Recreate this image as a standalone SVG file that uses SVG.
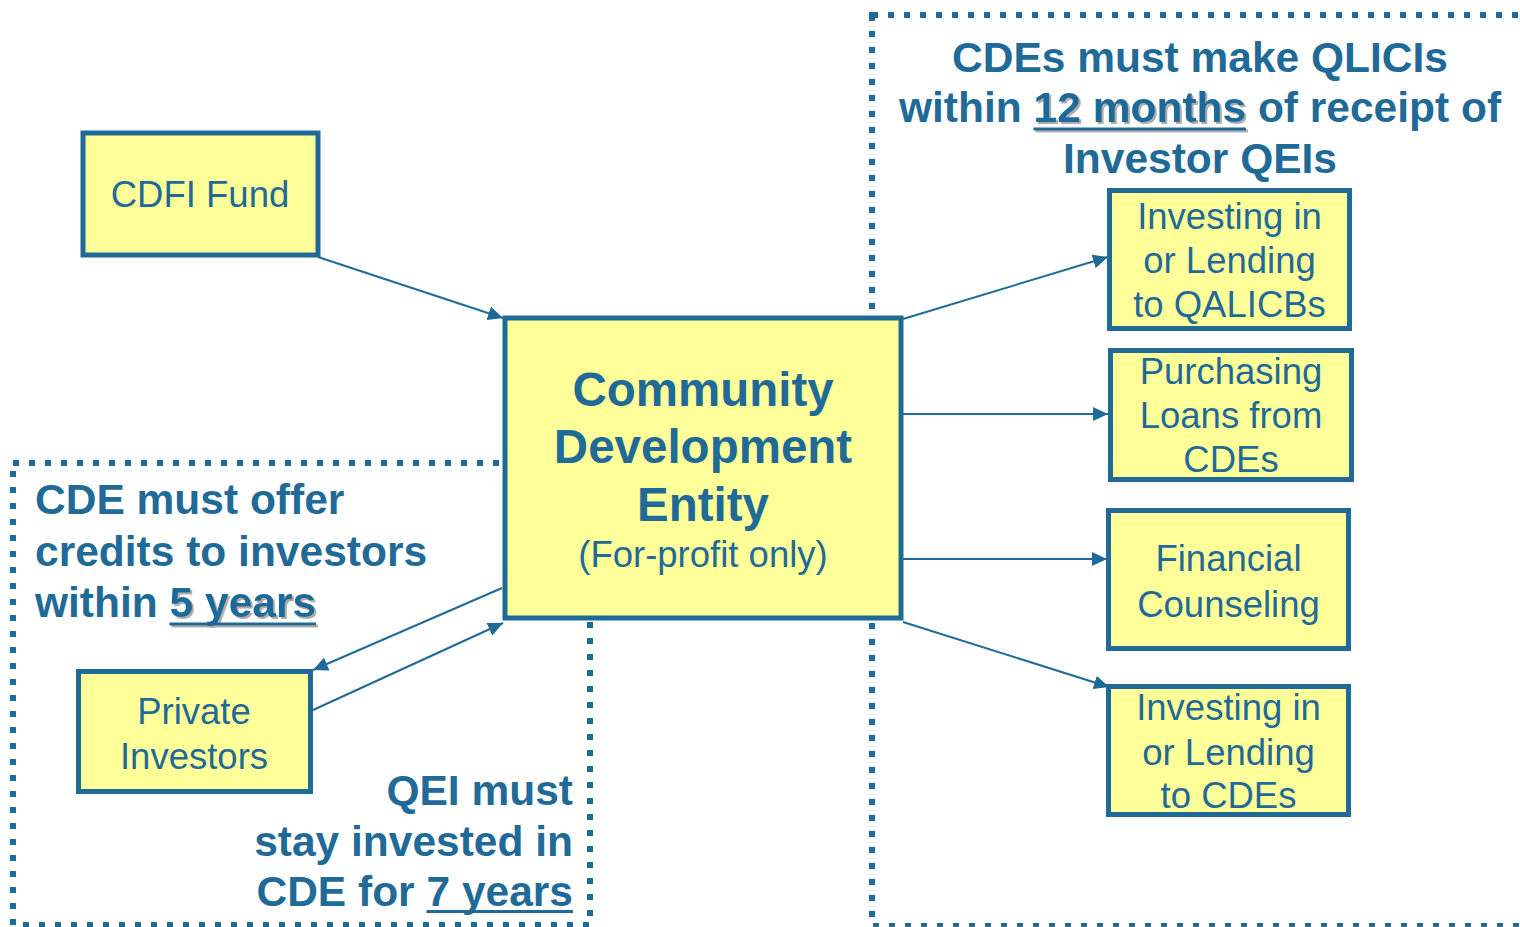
<svg xmlns="http://www.w3.org/2000/svg" width="1520" height="927" viewBox="0 0 1520 927">
<style>
.zone{fill:none;stroke:#1F6A97;stroke-width:6;stroke-dasharray:6 10}
.box{fill:#FFFF99;stroke:#1F6A97;stroke-width:5}
.lbl{font-family:"Liberation Sans",Arial,sans-serif;font-size:36.5px;fill:#1F6A97;text-anchor:middle}
.big{font-family:"Liberation Sans",Arial,sans-serif;font-size:47.5px;font-weight:bold;fill:#1F6A97;text-anchor:middle}
.note{font-family:"Liberation Sans",Arial,sans-serif;font-size:42.5px;font-weight:bold;fill:#1F6A97}
.edge{stroke:#1F6A97;stroke-width:2;fill:none;marker-end:url(#ah)}
</style>
<defs>
<marker id="ah" markerUnits="userSpaceOnUse" markerWidth="16" markerHeight="14" refX="15" refY="7" orient="auto">
<path d="M0,0 L15,7 L0,14 Z" fill="#1F6A97"/>
</marker>
<filter id="shd" x="-10%" y="-20%" width="120%" height="150%">
<feDropShadow dx="2" dy="2" stdDeviation="0.6" flood-color="#9A9A9A" flood-opacity="0.8"/>
</filter>
</defs>
<rect width="1520" height="927" fill="#FFFFFF"/>
<g id="zones">
<rect class="zone" x="13" y="463" width="577" height="462"/>
<rect class="zone" x="872" y="15" width="660" height="911"/>
</g>
<g id="annotations">
<text class="note" x="1200" y="72" text-anchor="middle">CDEs must make QLICIs</text>
<text class="note" x="899" y="122">within</text>
<g filter="url(#shd)">
<text class="note" x="1033.6" y="122">12 months</text>
<rect x="1033.5" y="127.5" width="212.5" height="3" fill="#1F6A97"/>
</g>
<text class="note" x="1257.9" y="122">of receipt of</text>
<text class="note" x="1200" y="173" text-anchor="middle">Investor QEIs</text>
<text class="note" x="35" y="514">CDE must offer</text>
<text class="note" x="35" y="566">credits to investors</text>
<text class="note" x="35" y="617">within</text>
<g filter="url(#shd)">
<text class="note" x="169.6" y="617">5 years</text>
<rect x="169.5" y="622.5" width="146.5" height="3" fill="#1F6A97"/>
</g>
<text class="note" x="573" y="805" text-anchor="end">QEI must</text>
<text class="note" x="573" y="856" text-anchor="end">stay invested in</text>
<text class="note" x="573" y="906" text-anchor="end">CDE for 7 years</text>
<rect x="426.5" y="910" width="146.5" height="3" fill="#1F6A97"/>
</g>
<g id="connectors">
<line class="edge" x1="318" y1="257" x2="503" y2="318"/>
<line class="edge" x1="502" y1="588" x2="313" y2="670"/>
<line class="edge" x1="313" y1="710" x2="503" y2="623"/>
<line class="edge" x1="903" y1="319" x2="1108" y2="257"/>
<line class="edge" x1="903" y1="414" x2="1108" y2="414"/>
<line class="edge" x1="903" y1="559" x2="1107" y2="559"/>
<line class="edge" x1="903" y1="622" x2="1109" y2="687"/>
</g>
<g id="cdfi-fund">
<rect class="box" x="83" y="133" width="235" height="122"/>
<text class="lbl" x="200" y="207">CDFI Fund</text>
</g>
<g id="cde">
<rect class="box" x="505" y="318" width="396" height="300"/>
<text class="big" x="703" y="406">Community</text>
<text class="big" x="703" y="463">Development</text>
<text class="big" x="703" y="521">Entity</text>
<text class="lbl" x="703" y="567">(For-profit only)</text>
</g>
<g id="private-investors">
<rect class="box" x="78.5" y="671.5" width="232" height="120"/>
<text class="lbl" x="194" y="724">Private</text>
<text class="lbl" x="194" y="769">Investors</text>
</g>
<g id="qalicbs">
<rect class="box" x="1109.5" y="190.5" width="240" height="138"/>
<text class="lbl" x="1229.5" y="229">Investing in</text>
<text class="lbl" x="1229.5" y="273">or Lending</text>
<text class="lbl" x="1229.5" y="317">to QALICBs</text>
</g>
<g id="purchasing-loans">
<rect class="box" x="1110.5" y="350.5" width="241" height="129"/>
<text class="lbl" x="1231" y="384">Purchasing</text>
<text class="lbl" x="1231" y="428">Loans from</text>
<text class="lbl" x="1231" y="472">CDEs</text>
</g>
<g id="financial-counseling">
<rect class="box" x="1108.5" y="510.5" width="240" height="138"/>
<text class="lbl" x="1228.5" y="571">Financial</text>
<text class="lbl" x="1228.5" y="617">Counseling</text>
</g>
<g id="lending-cdes">
<rect class="box" x="1108.5" y="686.5" width="240" height="128"/>
<text class="lbl" x="1228.5" y="720">Investing in</text>
<text class="lbl" x="1228.5" y="765">or Lending</text>
<text class="lbl" x="1228.5" y="808">to CDEs</text>
</g>
</svg>
